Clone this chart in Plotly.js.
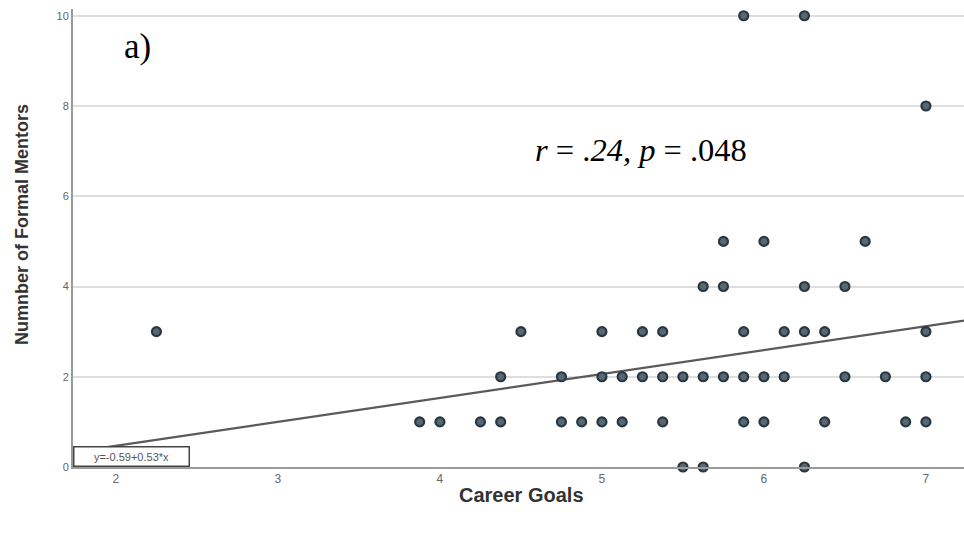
<!DOCTYPE html>
<html>
<head>
<meta charset="utf-8">
<script src="https://cdn.plot.ly/plotly-3.0.1.min.js"></script>
<style>html,body{margin:0;padding:0;background:#fff;}#chart{width:964px;height:536px;}</style>
</head>
<body>
<div id="chart"></div>
<script>
// Career Goals (x) and Number of Formal Mentors (y)
const careerGoals = [
  2.25,
  5.5, 5.625, 6.25,
  3.875, 4.0, 4.25, 4.375, 4.75, 4.875, 5.0, 5.125, 5.375, 5.875, 6.0, 6.375, 6.875, 7.0,
  4.375, 4.75, 5.0, 5.125, 5.25, 5.375, 5.5, 5.625, 5.75, 5.875, 6.0, 6.125, 6.5, 6.75, 7.0,
  4.5, 5.0, 5.25, 5.375, 5.875, 6.125, 6.25, 6.375, 7.0,
  5.625, 5.75, 6.25, 6.5,
  5.75, 6.0, 6.625,
  7.0,
  5.875, 6.25
];
const formalMentors = [
  3,
  0, 0, 0,
  1, 1, 1, 1, 1, 1, 1, 1, 1, 1, 1, 1, 1, 1,
  2, 2, 2, 2, 2, 2, 2, 2, 2, 2, 2, 2, 2, 2, 2,
  3, 3, 3, 3, 3, 3, 3, 3, 3,
  4, 4, 4, 4,
  5, 5, 5,
  8,
  10, 10
];
const fitIntercept = -0.59;
const fitSlope = 0.53;
const xRange = [1.735, 7.235];
const yRange = [0, 10.15];
const xTicks = [2, 3, 4, 5, 6, 7];
const yTicks = [0, 2, 4, 6, 8, 10];

const fitX = xRange.slice();
const fitY = fitX.map(x => fitIntercept + fitSlope * x);

const traces = [
  {
    x: fitX, y: fitY, type: 'scatter', mode: 'lines',
    line: {color: '#5a5a5a', width: 2.2},
    hoverinfo: 'skip', showlegend: false
  },
  {
    x: careerGoals, y: formalMentors, type: 'scatter', mode: 'markers',
    marker: {size: 9, color: '#56687440'.slice(0,7), line: {color: '#2a3741', width: 2.2}},
    showlegend: false, cliponaxis: false
  }
];

const W = 891, H = 458, L = 73, T = 9;
const px = (x) => (x - L) / W;
const py = (y) => (T + H - y) / H;
const sans = '"Liberation Sans", Arial, sans-serif';
const serif = '"Liberation Serif", "Times New Roman", serif';

const layout = {
  width: 964, height: 536,
  margin: {l: L, r: 0, t: T, b: 69},
  paper_bgcolor: '#ffffff', plot_bgcolor: '#ffffff',
  showlegend: false,
  font: {family: sans, color: '#555'},
  xaxis: {
    range: xRange, tickvals: xTicks, ticktext: xTicks.map(String),
    showgrid: false, zeroline: false,
    showline: true, linecolor: '#9a9a9a', linewidth: 2,
    ticks: '', ticklen: 0,
    tickfont: {size: 12, color: '#666', family: sans}
  },
  yaxis: {
    range: yRange, tickvals: yTicks, ticktext: yTicks.map(String),
    showgrid: true, gridcolor: '#dedede', gridwidth: 2,
    zeroline: false,
    showline: true, linecolor: '#9a9a9a', linewidth: 2,
    ticks: '', ticklen: 0,
    tickfont: {size: 11, color: '#666', family: sans}
  },
  annotations: [
    {
      xref: 'paper', yref: 'paper', x: px(521), y: py(495), xanchor: 'center', yanchor: 'middle',
      text: '<b>Career Goals</b>', showarrow: false,
      font: {size: 20, color: '#333', family: sans}
    },
    {
      xref: 'paper', yref: 'paper', x: px(22), y: py(225), xanchor: 'center', yanchor: 'middle',
      text: '<b>Numnber of Formal Mentors</b>', showarrow: false, textangle: -90,
      font: {size: 18, color: '#333', family: sans}
    },
    {
      xref: 'paper', yref: 'paper', x: 0, y: 0, xanchor: 'left', yanchor: 'bottom',
      text: 'y=-0.59+0.53*x', showarrow: false,
      font: {size: 11, color: '#555', family: sans},
      bgcolor: '#ffffff', bordercolor: '#444', borderwidth: 1.5, borderpad: 2,
      width: 110, height: 14
    },
    {
      xref: 'paper', yref: 'paper', x: px(122), y: py(47),
      xanchor: 'left', yanchor: 'middle',
      text: 'a)', showarrow: false,
      font: {size: 35, color: '#000', family: serif}
    },
    {
      xref: 'paper', yref: 'paper', x: px(533), y: py(150),
      xanchor: 'left', yanchor: 'middle',
      text: '<i>r</i> = .<i>24, p</i> = .048', showarrow: false,
      font: {size: 32.5, color: '#000', family: serif}
    }
  ]
};

Plotly.newPlot('chart', traces, layout, {displayModeBar: false, staticPlot: true});
</script>
</body>
</html>
